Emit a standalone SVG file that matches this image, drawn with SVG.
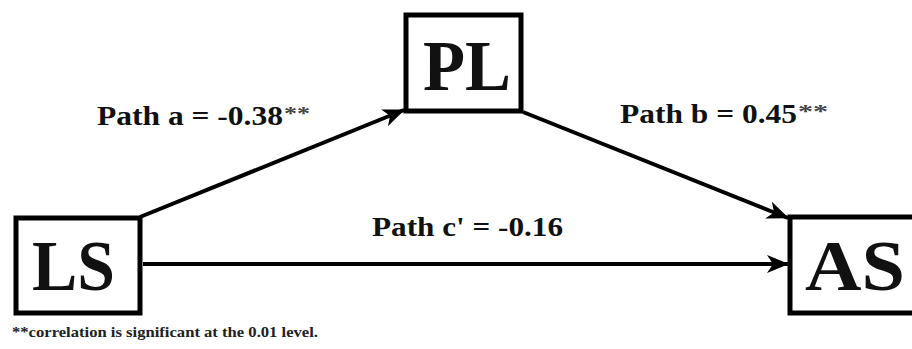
<svg xmlns="http://www.w3.org/2000/svg" width="912" height="349" viewBox="0 0 912 349">
<style>
.box{fill:#fff;stroke:#000;stroke-width:5}
.big{font-family:"Liberation Serif",serif;font-weight:bold;font-size:72px;fill:#111}
.lbl{font-family:"Liberation Serif",serif;font-weight:bold;font-size:27px;fill:#111}
.st{font-family:"Liberation Serif",serif;font-weight:bold;font-size:18px;fill:#444}
.note{font-family:"Liberation Serif",serif;font-weight:bold;font-size:14px;fill:#222}
.ln{stroke:#000;stroke-width:4;fill:none}
</style>
<defs>
<marker id="ah" viewBox="0 0 22 18" refX="21" refY="9" markerWidth="22" markerHeight="18" markerUnits="userSpaceOnUse" orient="auto" style="overflow:visible">
<path d="M22,9 L0,0 L6,9 L0,18 Z" fill="#000"/>
</marker>
</defs>
<rect width="912" height="349" fill="#fff"/>
<g id="connectors">
<line class="ln" x1="140" y1="217" x2="404" y2="110" marker-end="url(#ah)"/>
<line class="ln" x1="523" y1="112" x2="788" y2="218" marker-end="url(#ah)"/>
<line class="ln" x1="143" y1="264" x2="788" y2="264" marker-end="url(#ah)"/>
</g>
<g id="PL">
<rect class="box" x="406" y="15" width="115" height="96"/>
<text class="big" x="423" y="90" textLength="88" lengthAdjust="spacingAndGlyphs">PL</text>
</g>
<g id="LS">
<rect class="box" x="16" y="218" width="124" height="95"/>
<text class="big" x="32" y="290" textLength="83" lengthAdjust="spacingAndGlyphs">LS</text>
</g>
<g id="AS">
<rect class="box" x="790" y="217" width="130" height="96"/>
<text class="big" x="805" y="290" textLength="100" lengthAdjust="spacingAndGlyphs">AS</text>
</g>
<g id="labels">
<text class="lbl" x="97" y="125" textLength="186" lengthAdjust="spacingAndGlyphs">Path a = -0.38</text>
<text class="st" x="284" y="120" textLength="26" lengthAdjust="spacingAndGlyphs">**</text>
<text class="lbl" x="620" y="123" textLength="177" lengthAdjust="spacingAndGlyphs">Path b = 0.45</text>
<text class="st" x="798" y="118" textLength="30" lengthAdjust="spacingAndGlyphs">**</text>
<text class="lbl" x="372" y="236" textLength="191" lengthAdjust="spacingAndGlyphs">Path c' = -0.16</text>
<text class="note" x="12" y="337" textLength="306" lengthAdjust="spacingAndGlyphs">**correlation is significant at the 0.01 level.</text>
</g>
</svg>
